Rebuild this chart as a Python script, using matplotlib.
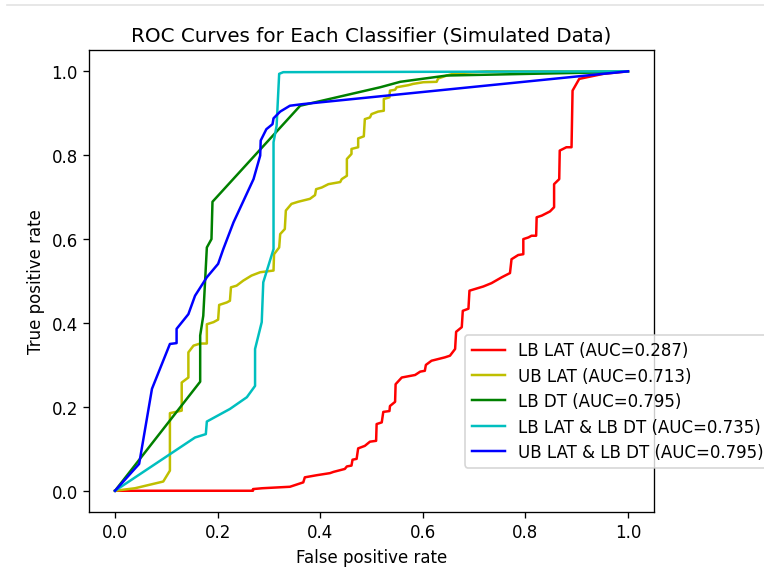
import matplotlib
matplotlib.use("Agg")
import matplotlib.pyplot as plt
from matplotlib.lines import Line2D

# ROC points
lb_lat_fpr = [0, 0.269, 0.269, 0.287, 0.341, 0.367, 0.370, 0.393, 0.419, 0.426, 0.448, 0.452,
              0.461, 0.463, 0.471, 0.474, 0.487, 0.497, 0.509, 0.510, 0.520, 0.523, 0.535,
              0.536, 0.546, 0.547, 0.559, 0.585, 0.595, 0.604, 0.606, 0.617, 0.643, 0.653,
              0.663, 0.665, 0.676, 0.678, 0.689, 0.691, 0.718, 0.734, 0.754, 0.770, 0.773,
              0.786, 0.796, 0.796, 0.806, 0.812, 0.821, 0.822, 0.832, 0.848, 0.856, 0.856,
              0.866, 0.867, 0.880, 0.890, 0.892, 0.905, 0.952, 1.0]
lb_lat_tpr = [0, 0.0, 0.004, 0.006, 0.0095, 0.020, 0.032, 0.037, 0.042, 0.045, 0.052, 0.058,
              0.060, 0.074, 0.076, 0.101, 0.107, 0.117, 0.119, 0.159, 0.163, 0.188, 0.190,
              0.202, 0.212, 0.254, 0.270, 0.276, 0.284, 0.286, 0.300, 0.310, 0.318, 0.322,
              0.338, 0.379, 0.390, 0.429, 0.434, 0.477, 0.487, 0.495, 0.509, 0.519, 0.552,
              0.562, 0.564, 0.600, 0.604, 0.608, 0.608, 0.652, 0.656, 0.666, 0.676, 0.731,
              0.743, 0.811, 0.819, 0.819, 0.954, 0.982, 0.994, 1.0]

ub_lat_fpr = [0, 0.039, 0.094, 0.107, 0.107, 0.130, 0.130, 0.143, 0.143, 0.153, 0.166, 0.179,
              0.179, 0.192, 0.201, 0.203, 0.218, 0.224, 0.226, 0.237, 0.250, 0.266, 0.283,
              0.309, 0.310, 0.320, 0.322, 0.331, 0.333, 0.344, 0.357, 0.380, 0.390, 0.392,
              0.403, 0.416, 0.439, 0.442, 0.452, 0.452, 0.461, 0.461, 0.474, 0.474, 0.485,
              0.487, 0.497, 0.500, 0.513, 0.524, 0.524, 0.535, 0.536, 0.546, 0.549, 0.572,
              0.581, 0.601, 0.627, 0.630, 0.647, 0.659, 0.673, 0.725, 1.0]
ub_lat_tpr = [0, 0.006, 0.022, 0.048, 0.185, 0.191, 0.258, 0.270, 0.330, 0.346, 0.351, 0.351,
              0.397, 0.402, 0.408, 0.443, 0.449, 0.453, 0.485, 0.489, 0.501, 0.513, 0.521,
              0.525, 0.564, 0.580, 0.612, 0.624, 0.668, 0.684, 0.689, 0.696, 0.705, 0.719,
              0.723, 0.731, 0.736, 0.743, 0.751, 0.791, 0.803, 0.815, 0.819, 0.840, 0.845,
              0.886, 0.890, 0.898, 0.904, 0.906, 0.934, 0.938, 0.954, 0.956, 0.962, 0.967,
              0.970, 0.974, 0.975, 0.983, 0.990, 0.994, 0.996, 1.0, 1.0]

lb_dt_fpr = [0, 0.166, 0.166, 0.172, 0.179, 0.188, 0.190, 0.361, 0.517, 0.556, 0.647, 0.971, 1.0]
lb_dt_tpr = [0, 0.260, 0.370, 0.417, 0.580, 0.600, 0.689, 0.918, 0.962, 0.975, 0.990, 0.998, 1.0]

combo1_fpr = [0, 0.156, 0.177, 0.179, 0.224, 0.257, 0.273, 0.273, 0.286, 0.289, 0.309,
              0.309, 0.315, 0.320, 0.328, 1.0]
combo1_tpr = [0, 0.127, 0.135, 0.165, 0.195, 0.223, 0.250, 0.338, 0.402, 0.497, 0.576,
              0.831, 0.870, 0.994, 0.998, 1.0]

combo2_fpr = [0, 0.047, 0.072, 0.107, 0.120, 0.120, 0.143, 0.156, 0.179, 0.201, 0.211,
              0.231, 0.270, 0.283, 0.284, 0.295, 0.307, 0.309, 0.322, 0.341, 0.367, 1.0]
combo2_tpr = [0, 0.064, 0.243, 0.350, 0.352, 0.386, 0.421, 0.465, 0.509, 0.541, 0.576,
              0.640, 0.743, 0.799, 0.835, 0.862, 0.874, 0.888, 0.904, 0.918, 0.922, 1.0]

labels = ['LB LAT', 'UB LAT', 'LB DT', 'LB LAT & LB DT', 'UB LAT & LB DT']
aucs = [0.287, 0.713, 0.795, 0.735, 0.795]
colors = ['r', 'y', 'g', 'c', 'b']
curves = [(lb_lat_fpr, lb_lat_tpr), (ub_lat_fpr, ub_lat_tpr), (lb_dt_fpr, lb_dt_tpr),
          (combo1_fpr, combo1_tpr), (combo2_fpr, combo2_tpr)]

# default 6.4in wide figure, rendered a bit larger (764 px wide)
fig = plt.figure(figsize=(6.4, 4.8335), dpi=119.375)
ax = fig.add_axes([0.117, 0.1114, 0.7385, 0.7996])

for (fpr, tpr), label, auc, color in zip(curves, labels, aucs, colors):
    ax.plot(fpr, tpr, color=color, label=f'{label} (AUC={auc})')

ax.set_xlabel('False positive rate')
ax.set_ylabel('True positive rate')
ax.set_title('ROC Curves for Each Classifier (Simulated Data)')
ax.legend(loc='lower left', bbox_to_anchor=(0.6086, 0.1875),
          bbox_transform=fig.transFigure, borderaxespad=0, labelspacing=0.45)

# thin grey rule at the very top (screenshot border)
fig.add_artist(Line2D([0.009, 1.0], [0.9896, 0.9896], transform=fig.transFigure,
                      color='#e3e3e3', lw=1))

fig.savefig('out.png', dpi=119.375)
